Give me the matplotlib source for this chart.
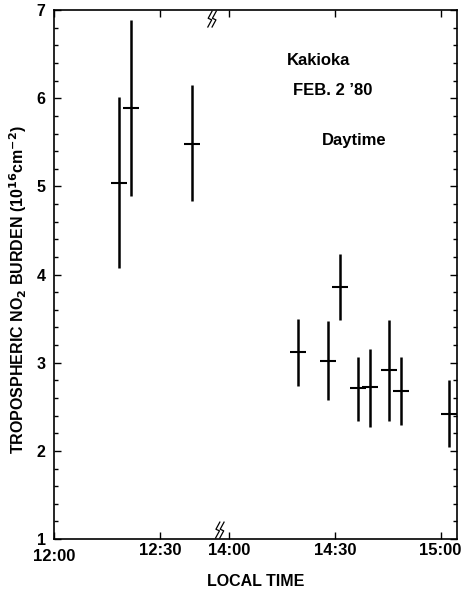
import matplotlib.pyplot as plt
import matplotlib.transforms as mtransforms
import numpy as np

# minutes after 12:00 local time
t_min = [18.4, 21.8, 39.0, 139.6, 148.1, 151.4, 156.7, 160.1, 165.5, 168.9, 182.5]
no2 = [5.04, 5.89, 5.48, 3.12, 3.02, 3.86, 2.71, 2.72, 2.92, 2.68, 2.42]
no2_hi = [6.01, 6.89, 6.15, 3.50, 3.47, 4.23, 3.06, 3.16, 3.49, 3.07, 2.80]
no2_lo = [4.08, 4.89, 4.83, 2.74, 2.58, 3.48, 2.34, 2.27, 2.34, 2.29, 2.04]

tick_min = [0, 30, 120, 150, 180]
tick_lbl = ["12:00", "12:30", "14:00", "14:30", "15:00"]

# the axis is broken between ~12:45 and 14:00
def squash(t):
    t = np.asarray(t, dtype=float)
    return np.where(t < 90, t, t - 120 + 49.6)

plt.rcParams['font.family'] = ['Liberation Sans', 'DejaVu Sans']

fig = plt.figure(figsize=(4.7, 5.93), dpi=100)
ax = fig.add_axes([0.115, 0.091, 0.857, 0.892])

x = squash(t_min)
ax.vlines(x, no2_lo, no2_hi, color="black", lw=1.8)
ax.plot(x, no2, ls="none", marker="_", ms=12, mew=1.5, color="black")

ax.set_xlim(0, 114.2)
ax.set_ylim(1, 7)
ax.set_xticks(squash(tick_min))
ax.set_xticklabels(tick_lbl, fontsize=12, fontweight="bold")
ax.set_yticks(range(1, 8))
ax.set_yticklabels([str(v) for v in range(1, 8)], fontsize=11.5, fontweight="bold")
ax.set_yticks(np.arange(1, 7.01, 0.2), minor=True)
ax.tick_params(axis="both", which="both", direction="in", top=True, right=True, width=1)
ax.tick_params(axis="both", which="major", length=5, pad=3)
ax.tick_params(axis="y", which="major", pad=6)
ax.tick_params(axis="y", which="minor", length=3)
for s in ax.spines.values():
    s.set_linewidth(1.2)

# 12:00 label sits a little lower in the original
lab0 = ax.get_xticklabels()[0]
lab0.set_transform(lab0.get_transform() + mtransforms.ScaledTranslation(0, -0.06, fig.dpi_scale_trans))

ax.set_xlabel("LOCAL TIME", fontsize=11.5, fontweight="bold", labelpad=7)
ax.set_ylabel("TROPOSPHERIC NO$_\\mathbf{2}$ BURDEN (10$^\\mathbf{16}$cm$^\\mathbf{-2}$)",
              fontsize=11.5, fontweight="bold")
ax.yaxis.set_label_coords(-0.062, 0.472)

ax.text(0.578, 0.905, "Kakioka", transform=ax.transAxes, fontsize=12, fontweight="bold", va="center")
ax.text(0.593, 0.848, "FEB. 2 \u201980", transform=ax.transAxes, fontsize=12, fontweight="bold", va="center")
ax.text(0.665, 0.754, "Daytime", transform=ax.transAxes, fontsize=12, fontweight="bold", va="center")

# break marks on top and bottom spines
brk = mtransforms.blended_transform_factory(ax.transData, ax.transAxes)
zig_x = np.array([0.6, -0.5, 0.5, -0.6])
zig_y = np.array([0.5, 0.05, -0.05, -0.5])
for xc, yc in [(44.8, 0.983), (47.0, 0.017)]:
    for dx in (-0.6, 0.6):
        ax.plot(xc + dx + zig_x, yc + 0.03 * zig_y, color="black", lw=0.9,
                transform=brk, clip_on=False)

plt.savefig("out.png", dpi=100)
